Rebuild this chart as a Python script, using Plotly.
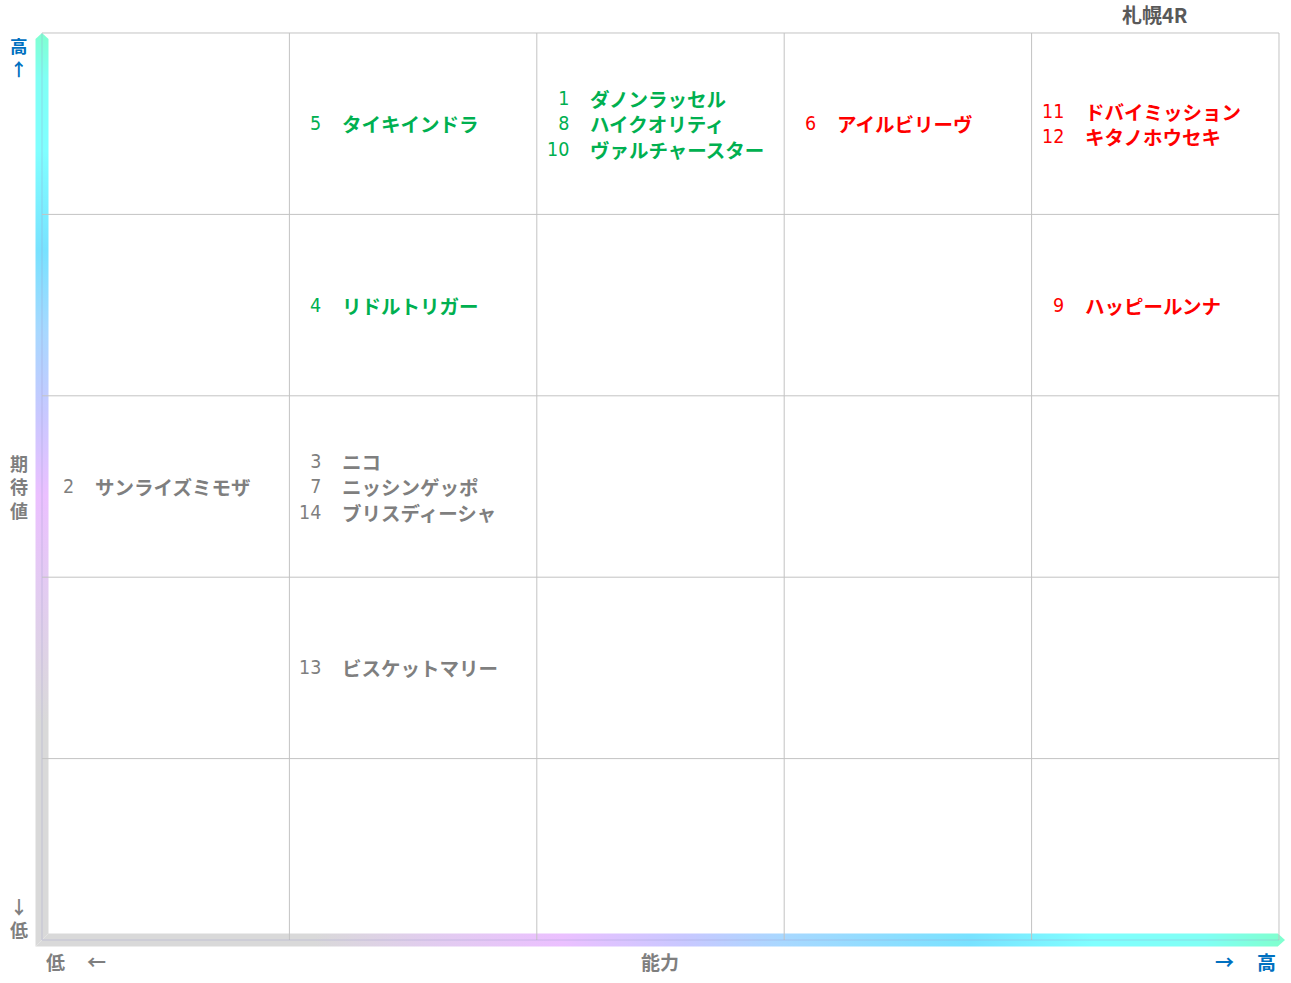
import plotly.graph_objects as go

# ---------------- data ----------------
numbers = [1, 2, 3, 4, 5, 6, 7, 8, 9, 10, 11, 12, 13, 14]
names = ["ダノンラッセル", "サンライズミモザ", "ニコ", "リドルトリガー", "タイキインドラ",
         "アイルビリーヴ", "ニッシンゲッポ", "ハイクオリティ", "ハッピールンナ",
         "ヴァルチャースター", "ドバイミッション", "キタノホウセキ", "ビスケットマリー",
         "ブリスディーシャ"]
ability = [3, 1, 2, 2, 2, 4, 2, 3, 5, 3, 5, 5, 2, 2]       # column 1 (low) .. 5 (high)
expectation = [5, 3, 3, 4, 5, 5, 3, 5, 4, 5, 5, 5, 2, 3]   # row 1 (low) .. 5 (high)
group = ["green", "gray", "gray", "green", "green", "red", "gray", "green", "red",
         "green", "red", "red", "gray", "gray"]
n_cols = 5
n_rows = 5
title_text = "札幌4R"
x_label = "能力"
y_label = ["期", "待", "値"]

# ---------------- styles ----------------
COLORS = {"green": "#00B050", "red": "#FF0000", "gray": "#7F7F7F"}
BLUE = "#0070C0"
GRAY_LBL = "#7F7F7F"
GRID = "#C3C3C3"
JP = "Noto Sans CJK JP"
NUMFONT = "Liberation Sans Narrow, DejaVu Sans Condensed, Arial Narrow, sans-serif"

W, H = 1291, 983
ML, MR, MT, MB = 33, 6, 30, 33
XR = [-0.0364, 5.0243]
YR = [-0.0551, 5.0165]
PW = W - ML - MR
PH = H - MT - MB


def px_to_paper_x(p):
    return (p - ML) / PW


def px_to_paper_y(p):
    return 1 - (p - MT) / PH


fig = go.Figure()

# ---------------- gradient axis bars ----------------
hx = 6.5 / (PW / (XR[1] - XR[0]))
hy = 6.5 / (PH / (YR[1] - YR[0]))
ty = 6.0 / (PH / (YR[1] - YR[0]))
tx = 6.0 / (PW / (XR[1] - XR[0]))

vert_scale = [[0, "#D9D9D9"], [0.24, "#D9D9D9"], [0.38, "#E2CCF0"], [0.49, "#EBC0FF"],
              [0.58, "#C8C8FF"], [0.67, "#A8D8FF"], [0.76, "#78E2FF"], [0.87, "#80FFFF"],
              [0.95, "#80FFF4"], [1, "#80FFD0"]]
horiz_scale = [[0, "#D9D9D9"], [0.22, "#D9D9D9"], [0.32, "#E2CCF0"], [0.42, "#EBC0FF"],
               [0.52, "#C8C8FF"], [0.60, "#A8D8FF"], [0.75, "#78E2FF"], [0.85, "#80FFFF"],
               [0.94, "#80FFF4"], [1, "#80FFD0"]]

fig.add_trace(go.Scatter(
    x=[-hx, -hx, 0, hx, hx, -hx],
    y=[-hy, n_rows - ty, n_rows, n_rows - ty, hy, -hy],
    fill="toself", mode="none", hoverinfo="skip", showlegend=False,
    fillgradient=dict(type="vertical", colorscale=vert_scale, start=0, stop=n_rows),
))
fig.add_trace(go.Scatter(
    x=[-hx, hx, n_cols - tx * 0.2, n_cols + tx, n_cols - tx * 0.2, -hx],
    y=[-hy, hy, hy, 0, -hy, -hy],
    fill="toself", mode="none", hoverinfo="skip", showlegend=False,
    fillgradient=dict(type="horizontal", colorscale=horiz_scale, start=0, stop=n_cols),
))

# ---------------- grid ----------------
shapes = []
for i in range(n_cols + 1):
    shapes.append(dict(type="line", xref="x", yref="y", x0=i, x1=i, y0=0, y1=n_rows,
                       line=dict(color=GRID if i > 0 else "rgba(150,150,200,0.35)", width=1),
                       layer="above"))
for j in range(n_rows + 1):
    shapes.append(dict(type="line", xref="x", yref="y", x0=0, x1=n_cols, y0=j, y1=j,
                       line=dict(color=GRID if j > 0 else "rgba(150,150,200,0.35)", width=1),
                       layer="above"))

# ---------------- horse labels (one block of lines per cell) ----------------
annotations = []
cells = {}
for k in range(len(numbers)):
    cells.setdefault((ability[k], expectation[k]), []).append(k)

SZ = 19.5
for (c, r), idxs in cells.items():
    idxs = sorted(idxs, key=lambda k: numbers[k])
    num_txt = "<br>".join(
        f'<span style="color:{COLORS[group[k]]}">{numbers[k]}</span>' for k in idxs)
    name_txt = "<br>".join(
        f'<span style="color:{COLORS[group[k]]}">{names[k]}</span>' for k in idxs)
    col0 = COLORS[group[idxs[0]]]
    annotations.append(dict(
        x=c - 1, y=r - 0.5, xref="x", yref="y", text=num_txt, align="right",
        xanchor="right", yanchor="middle", xshift=34, showarrow=False,
        font=dict(family=NUMFONT, size=SZ, color=col0)))
    annotations.append(dict(
        x=c - 1, y=r - 0.5, xref="x", yref="y", text=name_txt, align="left",
        xanchor="left", yanchor="middle", xshift=51, showarrow=False,
        font=dict(family=JP, size=SZ, color=col0, weight="bold")))


def label(text, px, py, color, size=19, family=JP):
    annotations.append(dict(
        x=px_to_paper_x(px), y=px_to_paper_y(py), xref="paper", yref="paper",
        text=text, showarrow=False, xanchor="center", yanchor="middle",
        font=dict(family=family, size=size, color=color, weight="bold")))


label("高<br>↑", 19, 57, BLUE, size=17.5)
label("<br>".join(y_label), 19, 487, GRAY_LBL, size=18)
label("↓<br>低", 19, 917, GRAY_LBL, size=18)
label("低", 55, 962, GRAY_LBL)
label("←", 96, 962, GRAY_LBL)
label(x_label, 660, 962, GRAY_LBL)
label("→", 1224, 962, BLUE)
label("高", 1266, 962, BLUE)
label(title_text, 1155, 14, "#595959", size=20)

fig.update_layout(
    width=W, height=H,
    margin=dict(l=ML, r=MR, t=MT, b=MB, pad=0),
    paper_bgcolor="white", plot_bgcolor="white",
    xaxis=dict(range=XR, visible=False, fixedrange=True),
    yaxis=dict(range=YR, visible=False, fixedrange=True),
    shapes=shapes, annotations=annotations, showlegend=False,
)

fig.write_html("out.html", config={"displayModeBar": False},
               post_script="document.body.style.margin='0';document.body.style.overflow='hidden';")
